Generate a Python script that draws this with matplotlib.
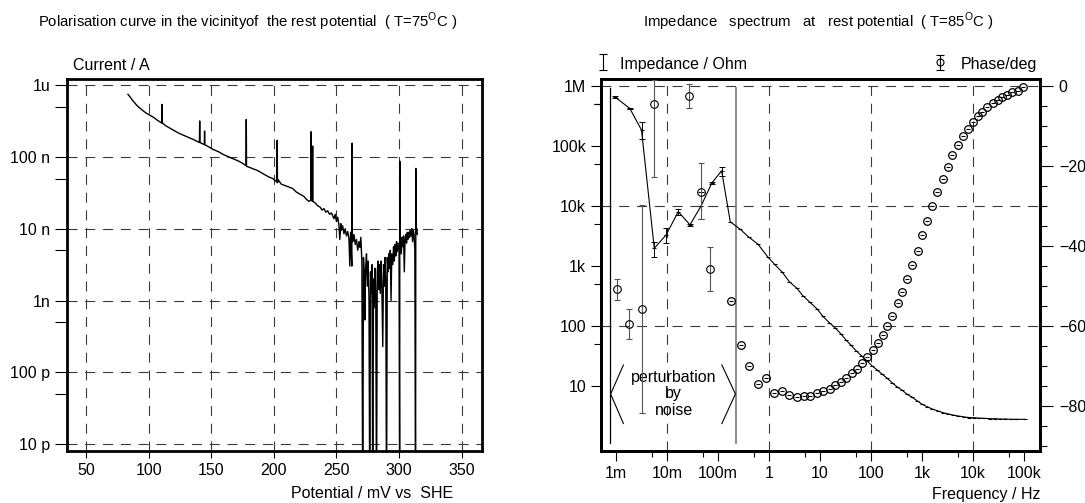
import numpy as np
import matplotlib
matplotlib.use("Agg")
import matplotlib.pyplot as plt
from matplotlib.ticker import FixedLocator, NullFormatter

plt.rcParams['font.family'] = ['Liberation Sans', 'DejaVu Sans']
plt.rcParams['mathtext.fontset'] = 'custom'
plt.rcParams['mathtext.rm'] = 'Liberation Sans'

# ---------------- polarisation curve (potential in mV, log10 of current in A) ----------------
pot_mV = [83.5, 85, 87, 89, 91, 93, 95, 98, 101, 104, 107, 110.6, 110.8, 111.0, 114, 117, 120, 124,
          128, 132, 136, 140.6, 140.8, 141.0, 144.5, 144.7, 144.9, 148, 152, 156, 160, 164, 168, 172,
          175, 177.8, 178, 178.2, 181, 184, 187, 190, 193, 196, 199, 202.5, 202.7, 202.9, 203.5, 206,
          209, 212, 215, 218, 221, 224, 226, 228, 229.6, 229.8, 230.0, 230.8, 231, 231.2, 233, 235,
          237, 238.5, 240, 241.5, 243, 244.5, 246,
          247, 248, 249, 250, 251, 252, 252.7, 253.5, 254, 255, 256, 257, 258, 259, 260, 260.7,
          261.3, 262.3, 262.5, 262.7, 263, 264, 265, 266, 267, 268, 268.7, 269.5, 270.3, 271, 271.6,
          272.3, 272.7, 273.3, 274, 274.7, 275.3, 276, 276.6, 277.2, 277.8, 278.4, 279, 279.6, 280.2,
          280.8, 281.4, 282, 282.6, 283.2, 283.8, 284.4, 285, 285.6, 286.2, 287, 287.6, 288.2, 288.8,
          289.4, 290, 290.6, 291.2, 291.8, 292.4, 293, 293.6, 294.2, 295, 295.6, 296.2, 296.8, 297.4,
          298, 298.6, 299.2, 300, 300.5, 300.6, 300.7, 301.2, 301.8, 302.4, 303, 303.6, 304.2, 304.8,
          305.4, 306, 306.6, 307.2, 307.8, 308.4, 309, 309.6, 310.2, 310.8, 311.4, 312, 312.6, 313.2,
          313.4, 313.6, 314.2, 314.6]
log_current = [-6.13, -6.16, -6.21, -6.25, -6.29, -6.32, -6.35, -6.39, -6.42, -6.45, -6.49, -6.53, -6.27, -6.53,
               -6.57, -6.60, -6.63, -6.67, -6.70, -6.73, -6.76, -6.80, -6.50, -6.80, -6.83, -6.64, -6.83, -6.86,
               -6.90, -6.93, -6.97, -7.00, -7.03, -7.06, -7.09, -7.12, -6.48, -7.13, -7.15, -7.17, -7.19, -7.22,
               -7.25, -7.28, -7.30, -7.35, -6.77, -7.36, -7.32, -7.38, -7.40, -7.42, -7.44, -7.49, -7.52, -7.55,
               -7.59, -7.62, -7.60, -6.65, -7.58, -7.62, -6.85, -7.62, -7.64, -7.68, -7.70, -7.74, -7.72, -7.77,
               -7.75, -7.80, -7.78,
               -7.82, -7.86, -7.80, -7.90, -7.84, -7.95, -8.15, -7.93, -8.02, -7.96, -8.07, -8.00, -8.10, -8.04,
               -8.14, -8.52, -8.05, -8.52, -6.81, -8.10, -8.18, -8.08, -8.22, -8.15, -8.30, -8.18, -8.26, -8.12,
               -8.45, -12.0, -8.40, -8.70, -9.27, -8.55, -8.35, -8.80, -8.45, -9.00, -12.0, -8.60, -8.90, -8.50,
               -12.0, -8.70, -9.10, -8.55, -8.90, -12.0, -8.60, -8.45, -8.85, -8.50, -8.90, -8.45, -8.75, -9.64,
               -8.50, -8.80, -8.40, -8.70, -12.0, -8.40, -8.60, -8.35, -8.55, -8.30, -9.00, -8.35, -8.50, -8.25,
               -8.45, -8.22, -8.38, -8.18, -8.32, -8.20, -8.30, -12.0, -7.06, -8.20, -8.15, -8.35, -8.12, -8.25,
               -8.10, -8.60, -8.15, -8.08, -8.20, -8.05, -8.15, -8.05, -8.12, -8.02, -8.10, -8.00, -8.18, -8.02,
               -8.08, -8.30, -12.0, -7.16, -8.05, -8.00, -8.08]

pot_ticks = [50, 100, 150, 200, 250, 300, 350]
cur_ticks = [1e-6, 1e-7, 1e-8, 1e-9, 1e-10, 1e-11]
cur_labels = ['1u', '100 n', '10 n', '1n', '100 p', '10 p']

# ---------------- impedance spectrum (log10 frequency / Hz) ----------------
# noisy low frequency impedance points with error bars (log10 Ohm)
logf_z_noise = [-3.02, -2.73, -2.50, -2.25, -2.02, -1.78, -1.55, -1.33, -1.12, -0.93]
logz_noise = [5.81, 5.62, 5.26, 3.29, 3.51, 3.90, 3.68, 4.00, 4.38, 4.58]
logz_noise_lo = [5.80, 5.61, 5.11, 3.15, 3.38, 3.84, 3.66, 3.77, 4.36, 4.50]
logz_noise_hi = [5.82, 5.63, 5.40, 3.40, 3.62, 3.95, 3.70, 4.23, 4.40, 4.64]
# impedance above ~0.2 Hz
logf_z = [-0.76, -0.57, -0.39, -0.22, -0.03, 0.11, 0.26, 0.40, 0.55, 0.66, 0.80, 0.94, 1.05, 1.18, 1.30,
          1.41, 1.51, 1.61, 1.71, 1.81, 1.91, 2.02, 2.12, 2.22, 2.32, 2.41, 2.51, 2.60, 2.70, 2.80, 2.90,
          3.00, 3.10, 3.20, 3.31, 3.41, 3.51, 3.61, 3.71, 3.82, 3.92, 4.02, 4.12, 4.22, 4.33, 4.43, 4.53,
          4.63, 4.74, 4.84, 5.01]
logz = [3.73, 3.61, 3.47, 3.36, 3.15, 3.02, 2.89, 2.73, 2.62, 2.50, 2.39, 2.28, 2.16, 2.05, 1.96,
        1.86, 1.76, 1.67, 1.58, 1.50, 1.42, 1.33, 1.26, 1.19, 1.12, 1.05, 0.98, 0.93, 0.86, 0.81, 0.75,
        0.69, 0.65, 0.61, 0.58, 0.55, 0.53, 0.51, 0.495, 0.48, 0.47, 0.467, 0.46, 0.457, 0.45, 0.45, 0.445,
        0.445, 0.44, 0.44, 0.44]

# noisy low frequency phase points with error bars (deg)
logf_ph_noise = [-2.99, -2.74, -2.49, -2.25, -1.56, -1.33, -1.15]
phase_noise = [-50.8, -59.6, -55.9, -4.5, -2.5, -26.5, -45.9]
phase_noise_lo = [-53.6, -63.4, -81.9, -22.7, -5.7, -33.4, -51.3]
phase_noise_hi = [-48.3, -55.7, -29.8, 1.5, 0.4, -19.4, -40.2]
# phase above ~0.2 Hz
logf_ph = [-0.755, -0.56, -0.39, -0.22, -0.06, 0.096, 0.26, 0.40, 0.54, 0.68, 0.80, 0.94, 1.06, 1.19,
           1.30, 1.41, 1.51, 1.62, 1.72, 1.82, 1.92, 2.03, 2.13, 2.23, 2.31, 2.41, 2.52, 2.61, 2.71, 2.81,
           2.91, 3.00, 3.10, 3.20, 3.30, 3.40, 3.50, 3.59, 3.70, 3.80, 3.90, 3.99, 4.09, 4.18, 4.28, 4.38,
           4.48, 4.57, 4.67, 4.77, 4.87, 4.97]
phase = [-53.7, -64.7, -70.0, -74.6, -73.0, -76.7, -76.2, -77.3, -77.9, -77.5, -77.5, -76.7, -76.2, -75.7,
         -74.8, -74.0, -73.0, -71.9, -70.7, -69.2, -67.7, -66.1, -64.2, -62.3, -60.0, -57.5, -54.4, -51.5,
         -48.3, -44.9, -41.2, -37.3, -33.7, -30.0, -26.6, -23.3, -20.3, -17.4, -14.9, -12.7, -10.8, -9.1,
         -7.6, -6.5, -5.4, -4.4, -3.7, -2.9, -2.3, -1.7, -1.4, -0.4]

freq_ticks = [1e-3, 1e-2, 1e-1, 1, 10, 100, 1e3, 1e4, 1e5]
freq_labels = ['1m', '10m', '100m', '1', '10', '100', '1k', '10k', '100k']
z_ticks = [10, 100, 1e3, 1e4, 1e5, 1e6]
z_labels = ['10', '100', '1k', '10k', '100k', '1M']
phase_ticks = [0, -20, -40, -60, -80]

grid_style = dict(color='#3a3a3a', linestyle=(0, (9, 7)), linewidth=0.8)
fs = 11.5
fs_title = 10.7

fig = plt.figure(figsize=(10.85, 5.03), dpi=100)
W, H = 1085.0, 503.0

# ================= left: polarisation curve =================
ax = fig.add_axes([66.7 / W, 1 - 450.7 / H, (481.7 - 66.7) / W, (450.7 - 79) / H])
ax.plot(pot_mV, 10 ** np.array(log_current), color='black', linewidth=1.0, zorder=3)
ax.set_yscale('log')
ax.set_xlim(34.6, 366)
ax.set_ylim(10 ** -11.09, 10 ** -5.916)
ax.set_xticks(pot_ticks)
ax.yaxis.set_major_locator(FixedLocator(cur_ticks))
ax.set_yticklabels(cur_labels)
ax.yaxis.set_minor_locator(FixedLocator([5 * t for t in cur_ticks[1:]]))
ax.yaxis.set_minor_formatter(NullFormatter())
ax.tick_params(axis='y', which='both', direction='out', length=8.5, width=0.8, pad=3.5, labelsize=fs)
ax.tick_params(axis='x', direction='out', length=5, width=0.8, pad=4, labelsize=fs)
ax.grid(True, which='major', **grid_style)
for s in ax.spines.values():
    s.set_linewidth(2.0)

fig.text(247.5 / W, 1 - 22 / H,
         r'Polarisation curve in the vicinityof  the rest potential  ( T=75$^{\mathrm{O}}$C )',
         ha='center', va='center', fontsize=fs_title)
fig.text(73 / W, 1 - 66 / H, 'Current / A', ha='left', va='center', fontsize=fs)
fig.text(453 / W, 1 - 493.5 / H, 'Potential / mV vs  SHE', ha='right', va='center', fontsize=fs)

# ================= right: impedance spectrum =================
ax2 = fig.add_axes([600.7 / W, 1 - 451 / H, (1040 - 600.7) / W, 372 / H])
ax2.set_xscale('log')
ax2.set_yscale('log')
ax2.set_xlim(10 ** -3.30, 10 ** 5.31)
ax2.set_ylim(10 ** -0.088, 10 ** 6.11)

# impedance: noisy part + regular part joined by one line
f_all = 10 ** np.array(logf_z_noise + logf_z)
z_all = 10 ** np.array(logz_noise + logz)
ax2.plot(f_all, z_all, color='black', linewidth=0.8, marker='_', markersize=3.5, markeredgewidth=0.8, zorder=4)
zn = 10 ** np.array(logz_noise)
ax2.errorbar(10 ** np.array(logf_z_noise), zn,
             yerr=[zn - 10 ** np.array(logz_noise_lo), 10 ** np.array(logz_noise_hi) - zn],
             fmt='none', ecolor='black', elinewidth=0.7, capsize=2.5, capthick=0.7, zorder=4)

ax2.xaxis.set_major_locator(FixedLocator(freq_ticks))
ax2.set_xticklabels(freq_labels)
ax2.xaxis.set_minor_locator(FixedLocator([5 * t for t in freq_ticks[:-1]]))
ax2.xaxis.set_minor_formatter(NullFormatter())
ax2.yaxis.set_major_locator(FixedLocator(z_ticks))
ax2.set_yticklabels(z_labels)
ax2.yaxis.set_minor_locator(FixedLocator([5 * t for t in z_ticks[:-1]] + [5e5]))
ax2.yaxis.set_minor_formatter(NullFormatter())
ax2.tick_params(axis='x', which='major', direction='out', length=7, width=0.8, pad=4, labelsize=fs)
ax2.tick_params(axis='x', which='minor', direction='out', length=4.5, width=0.8)
ax2.tick_params(axis='y', which='major', direction='out', length=7.5, width=0.8, pad=3, labelsize=fs)
ax2.tick_params(axis='y', which='minor', direction='out', length=5, width=0.8)
for s in ax2.spines.values():
    s.set_linewidth(2.0)

# grid every second decade
for f in [1e-2, 1, 1e2, 1e4]:
    ax2.axvline(f, zorder=1, **grid_style)
for z in [1e2, 1e4, 1e6]:
    ax2.axhline(z, zorder=1, **grid_style)

# phase on a twin axis
ax3 = ax2.twinx()
ax3.set_ylim(-91.3, 1.67)
pn = np.array(phase_noise)
ax3.errorbar(10 ** np.array(logf_ph_noise), pn,
             yerr=[pn - np.array(phase_noise_lo), np.array(phase_noise_hi) - pn],
             fmt='o', color='#555555', mfc='none', mec='black', markersize=5.5, markeredgewidth=0.8,
             elinewidth=0.8, capsize=2.5, capthick=0.7, zorder=4)
ax3.plot(10 ** np.array(logf_ph), phase, linestyle='none', marker='o', markersize=5.5,
         mfc='none', mec='black', markeredgewidth=0.9, zorder=4)
ax3.plot(10 ** np.array(logf_ph), phase, linestyle='none', marker='_', markersize=3.5,
         color='black', markeredgewidth=0.8, zorder=4)
ax3.yaxis.set_major_locator(FixedLocator(phase_ticks))
ax3.yaxis.set_minor_locator(FixedLocator([-5, -10, -15, -25, -30, -35, -45, -50, -55, -65, -70, -75, -85, -90]))
ax3.yaxis.set_minor_formatter(NullFormatter())
ax3.tick_params(axis='y', which='major', direction='out', length=9.5, width=0.8, pad=4, labelsize=fs)
ax3.tick_params(axis='y', which='minor', direction='out', length=5, width=0.8)
for s in ax3.spines.values():
    s.set_linewidth(2.0)

# noise region marks
ax2.axvline(10 ** -3.118, ymin=0.0215, ymax=0.976, color='black', linewidth=0.9, zorder=2)
ax2.axvline(10 ** -0.653, ymin=0.0215, ymax=0.976, color='#777777', linewidth=1.2, zorder=2)
ax2.plot(10 ** np.array([-2.855, -3.105, -2.855]), 10 ** np.array([1.345, 0.862, 0.37]),
         color='black', linewidth=0.8)
ax2.plot(10 ** np.array([-0.925, -0.66, -0.925]), 10 ** np.array([1.345, 0.862, 0.37]),
         color='black', linewidth=0.8)
ax2.text(10 ** -1.867, 10 ** 0.862, 'perturbation\nby\nnoise', ha='center', va='center',
         fontsize=fs, linespacing=1.1)

# legend-like symbols above the frame
ax2.errorbar([0.006], [1.046], yerr=[[0.021], [0.021]], fmt='none', ecolor='black', elinewidth=0.8,
             capsize=3, capthick=0.8, transform=ax2.transAxes, clip_on=False)
fig.text(620 / W, 1 - 65 / H, 'Impedance / Ohm', ha='left', va='center', fontsize=fs)
ax2.errorbar([(940 - 600.7) / 439.3], [1.045], yerr=[[0.02], [0.02]], fmt='o', color='black',
             mfc='none', markersize=5, markeredgewidth=0.8, elinewidth=0.8, capsize=3, capthick=0.8,
             transform=ax2.transAxes, clip_on=False)
fig.text(1037 / W, 1 - 65 / H, 'Phase/deg', ha='right', va='center', fontsize=fs)

fig.text(818 / W, 1 - 22 / H,
         r'Impedance   spectrum   at   rest potential  ( T=85$^{\mathrm{O}}$C )',
         ha='center', va='center', fontsize=fs_title)
fig.text(1040 / W, 1 - 495 / H, 'Frequency / Hz', ha='right', va='center', fontsize=fs)

fig.savefig('out.png', dpi=100)
